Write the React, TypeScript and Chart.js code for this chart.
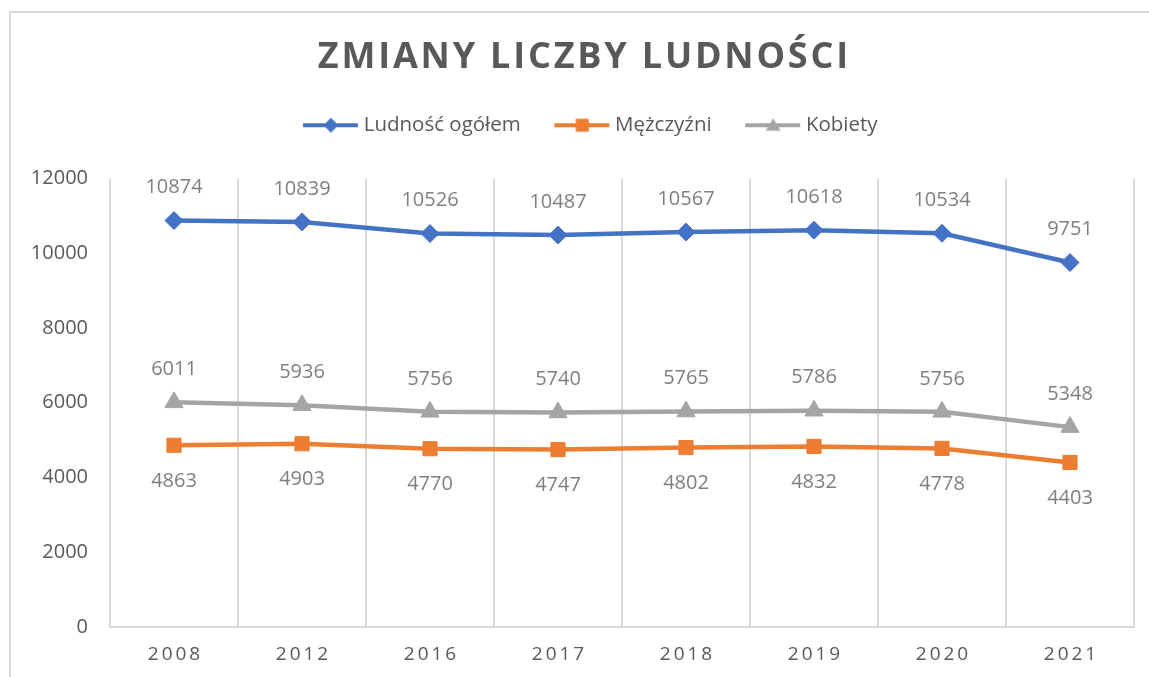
import { useEffect, useRef } from "react";
import { Chart, registerables } from "chart.js";

Chart.register(...registerables);

const years = ["2008", "2012", "2016", "2017", "2018", "2019", "2020", "2021"];
const totalPopulation = [10874, 10839, 10526, 10487, 10567, 10618, 10534, 9751];
const men = [4863, 4903, 4770, 4747, 4802, 4832, 4778, 4403];
const women = [6011, 5936, 5756, 5740, 5765, 5786, 5756, 5348];
const seriesNames = ["Ludność ogółem", "Mężczyźni", "Kobiety"];
const titleText = "ZMIANY LICZBY LUDNOŚCI";
const yMin = 0;
const yMax = 12000;
const yStep = 2000;

const BLUE = "#4472C4";
const ORANGE = "#ED7D31";
const GRAY = "#A5A5A5";
const TEXT = "#595959";
const LABEL = "#7F7F7F";
const GRID = "#D9D9D9";
const FONT = "'Open Sans', 'Noto Sans', sans-serif";

function legendIcon(color: string, shape: string) {
  const c = document.createElement("canvas");
  c.width = 62;
  c.height = 20;
  const ctx = c.getContext("2d")!;
  ctx.strokeStyle = color;
  ctx.lineWidth = 4;
  ctx.beginPath();
  ctx.moveTo(6, 10);
  ctx.lineTo(61, 10);
  ctx.stroke();
  ctx.fillStyle = color;
  const cx = 34;
  const cy = 10;
  ctx.beginPath();
  if (shape === "diamond") {
    ctx.moveTo(cx, cy - 7.5);
    ctx.lineTo(cx + 7.5, cy);
    ctx.lineTo(cx, cy + 7.5);
    ctx.lineTo(cx - 7.5, cy);
  } else if (shape === "square") {
    ctx.rect(cx - 6.5, cy - 6.5, 13, 13);
  } else {
    ctx.moveTo(cx, cy - 7);
    ctx.lineTo(cx + 7.5, cy + 5.5);
    ctx.lineTo(cx - 7.5, cy + 5.5);
  }
  ctx.closePath();
  ctx.fill();
  return c;
}

const framePlugin = {
  id: "frame",
  beforeDraw(chart: any) {
    const ctx = chart.ctx;
    ctx.save();
    ctx.strokeStyle = GRID;
    ctx.lineWidth = 2;
    ctx.beginPath();
    ctx.moveTo(10, chart.height);
    ctx.lineTo(10, 12);
    ctx.lineTo(chart.width, 12);
    ctx.stroke();
    ctx.restore();
  },
};

const titlePlugin = {
  id: "spacedTitle",
  afterDraw(chart: any) {
    const ctx = chart.ctx;
    const ls = 2.8;
    ctx.save();
    ctx.font = `bold 36px ${FONT}`;
    ctx.fillStyle = TEXT;
    ctx.textBaseline = "middle";
    ctx.textAlign = "left";
    (ctx as any).letterSpacing = "0px";
    const w = ctx.measureText(titleText).width + ls * (titleText.length - 1);
    (ctx as any).letterSpacing = ls + "px";
    ctx.fillText(titleText, 583 - w / 2, 58);
    ctx.restore();
  },
};

const xLabelsPlugin = {
  id: "spacedXLabels",
  afterDraw(chart: any) {
    const ctx = chart.ctx;
    const scale = chart.scales.x;
    const ls = 3;
    ctx.save();
    ctx.font = `19px ${FONT}`;
    ctx.fillStyle = TEXT;
    ctx.textBaseline = "middle";
    ctx.textAlign = "left";
    years.forEach((label, i) => {
      (ctx as any).letterSpacing = "0px";
      const w = ctx.measureText(label).width + ls * (label.length - 1);
      (ctx as any).letterSpacing = ls + "px";
      const x = scale.getPixelForValue(i);
      ctx.fillText(label, x - w / 2, scale.bottom - 22);
    });
    ctx.restore();
  },
};

const valueLabelsPlugin = {
  id: "valueLabels",
  afterDatasetsDraw(chart: any) {
    const ctx = chart.ctx;
    ctx.save();
    ctx.font = `20px ${FONT}`;
    ctx.fillStyle = LABEL;
    ctx.textAlign = "center";
    ctx.textBaseline = "middle";
    chart.data.datasets.forEach((ds: any, i: number) => {
      const meta = chart.getDatasetMeta(i);
      meta.data.forEach((pt: any, j: number) => {
        ctx.fillText(String(ds.data[j]), pt.x, pt.y + ds.labelOffset);
      });
    });
    ctx.restore();
  },
};

export default function App() {
  const ref = useRef<HTMLCanvasElement | null>(null);

  useEffect(() => {
    if (!ref.current) return;
    const icons = [legendIcon(BLUE, "diamond"), legendIcon(ORANGE, "square"), legendIcon(GRAY, "triangle")];
    const chart = new Chart(ref.current, {
      type: "line",
      data: {
        labels: years,
        datasets: [
          {
            label: seriesNames[0],
            data: totalPopulation,
            borderColor: BLUE,
            backgroundColor: BLUE,
            borderWidth: 4.5,
            pointStyle: "rectRot",
            pointRadius: 9,
            pointBorderWidth: 1,
            pointBorderColor: BLUE,
            pointBackgroundColor: BLUE,
            labelOffset: -33,
          } as any,
          {
            label: seriesNames[1],
            data: men,
            borderColor: ORANGE,
            backgroundColor: ORANGE,
            borderWidth: 4.5,
            pointStyle: "rect",
            pointRadius: 10,
            pointBorderWidth: 1,
            pointBorderColor: ORANGE,
            pointBackgroundColor: ORANGE,
            labelOffset: 36,
          } as any,
          {
            label: seriesNames[2],
            data: women,
            borderColor: GRAY,
            backgroundColor: GRAY,
            borderWidth: 4.5,
            pointStyle: "triangle",
            pointRadius: 10.5,
            pointBorderWidth: 1,
            pointBorderColor: GRAY,
            pointBackgroundColor: GRAY,
            labelOffset: -33,
          } as any,
        ],
      },
      options: {
        responsive: false,
        animation: false,
        layout: { padding: { left: 20, right: -11, top: 82, bottom: 0 } },
        plugins: {
          title: { display: false },
          tooltip: { enabled: false },
          legend: {
            display: true,
            position: "top",
            labels: {
              usePointStyle: true,
              pointStyleWidth: 51,
              padding: 33,
              color: TEXT,
              font: { family: FONT, size: 20.5 },
              generateLabels: (c: any) => {
                const items = Chart.defaults.plugins.legend.labels.generateLabels(c);
                return items.map((it: any, i: number) => ({ ...it, pointStyle: icons[i], fontColor: TEXT }));
              },
            },
          },
        },
        scales: {
          x: {
            type: "category",
            offset: true,
            grid: { offset: true, color: GRID, lineWidth: 2, drawTicks: false },
            border: { color: GRID, width: 2 },
            ticks: { display: false },
            afterFit: (s: any) => {
              s.height = 50;
            },
          },
          xTop: {
            type: "category",
            position: "top",
            display: true,
            grid: { display: false, drawTicks: false },
            border: { display: false },
            ticks: { display: false },
            afterFit: (s: any) => {
              s.height = 33;
            },
          },
          y: {
            min: yMin,
            max: yMax,
            ticks: {
              stepSize: yStep,
              color: TEXT,
              font: { family: FONT, size: 20 },
              padding: 22,
              callback: (v: any) => String(v),
            },
            grid: { display: false, drawTicks: false },
            border: { display: false },
            afterFit: (s: any) => {
              s.width = 90;
            },
          },
          yRight: {
            type: "linear",
            position: "right",
            display: true,
            grid: { display: false, drawTicks: false },
            border: { display: false },
            ticks: { display: false },
            afterFit: (s: any) => {
              s.width = 26;
            },
          },
        } as any,
      },
      plugins: [framePlugin, titlePlugin, xLabelsPlugin, valueLabelsPlugin],
    });
    return () => chart.destroy();
  }, []);

  return (
    <div style={{ position: "absolute", left: 0, top: 0, width: 1149, height: 677, background: "#fff" }}>
      <canvas ref={ref} width={1149} height={677} style={{ display: "block" }} />
    </div>
  );
}
